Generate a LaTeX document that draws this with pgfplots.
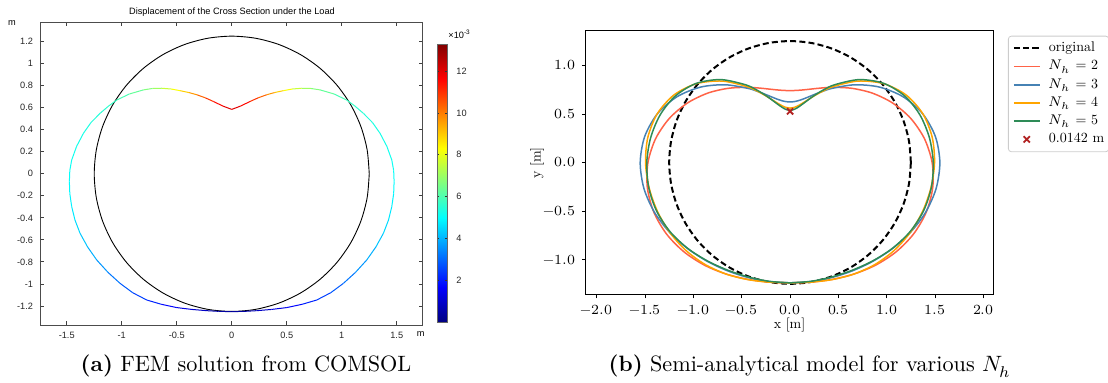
\documentclass[border=0pt]{standalone}
\usepackage{fontspec}
\usepackage{unicode-math}
\setmainfont{lmroman10}[Extension=.otf, UprightFont=*-regular, BoldFont=*-bold, ItalicFont=*-italic, BoldItalicFont=*-bolditalic]
\setmathfont{Latin Modern Math}
\usepackage{pgfplots}
\pgfplotsset{compat=1.18}
\newfontfamily\comsolfont{Liberation Sans}
\definecolor{mptomato}{RGB}{255,99,71}
\definecolor{mpsteel}{RGB}{70,130,180}
\definecolor{mporange}{RGB}{255,165,0}
\definecolor{mpgreen}{RGB}{46,139,87}
\definecolor{mpfire}{RGB}{178,34,34}
\newcommand{\cfont}{\comsolfont\fontsize{4.6}{5.5}\selectfont}
\newcommand{\mfont}{\fontsize{7}{8.4}\selectfont}
\begin{document}
\begin{tikzpicture}
\useasboundingbox (0,0) rectangle (554pt,191.5pt);
% ---------------- left panel (COMSOL) ----------------
\begin{axis}[
  at={(20pt,29pt)}, anchor=south west, scale only axis,
  width=191.35pt, height=151.35pt,
  xmin=-1.743, xmax=1.736, ymin=-1.373, ymax=1.376,
  axis line style={black!70, line width=0.4pt},
  tick align=inside, major tick length=1.8pt,
  tick style={black!75, line width=0.4pt},
  xtick={-1.5,-1,-0.5,0,0.5,1,1.5},
  ytick={-1.2,-1,-0.8,-0.6,-0.4,-0.2,0,0.2,0.4,0.6,0.8,1,1.2},
  ticklabel style={font=\cfont, text=black!85},
  /pgf/number format/assume math mode=true,
  colormap/jet, point meta min=0, point meta max=13.3,
  colorbar,
  colorbar style={
    at={(1.0374,0.9283)}, anchor=north west,
    scale only axis, width=5pt, height=139pt,
    ytick={2,4,6,8,10,12}, yticklabel pos=right,
    tick align=inside, major tick length=1.2pt,
    tick style={black!80, line width=0.35pt},
    axis line style={black!60, line width=0.35pt},
    yticklabel style={font=\cfont, xshift=1.2pt},
    /pgf/number format/assume math mode=true,
  },
]
\addplot[black, line width=0.45pt, smooth] coordinates {
(1.25,0) (1.2310,0.2171) (1.1746,0.4275) (1.0825,0.625) (0.9575,0.8035) (0.8035,0.9575) (0.625,1.0825) (0.4275,1.1746) (0.2171,1.2310) (0,1.25) (-0.2171,1.2310) (-0.4275,1.1746) (-0.625,1.0825) (-0.8035,0.9575) (-0.9575,0.8035) (-1.0825,0.625) (-1.1746,0.4275) (-1.2310,0.2171) (-1.25,0) (-1.2310,-0.2171) (-1.1746,-0.4275) (-1.0825,-0.625) (-0.9575,-0.8035) (-0.8035,-0.9575) (-0.625,-1.0825) (-0.4275,-1.1746) (-0.2171,-1.2310) (0,-1.25) (0.2171,-1.2310) (0.4275,-1.1746) (0.625,-1.0825) (0.8035,-0.9575) (0.9575,-0.8035) (1.0825,-0.625) (1.1746,-0.4275) (1.2310,-0.2171) (1.25,0)};
\addplot[mesh, point meta=explicit, line width=0.5pt] table[x=x, y=y, meta=c] {
x y c
0 -1.252 0.3
0.12 -1.249 0.5
0.227 -1.243 0.7
0.36 -1.232 1.1
0.5 -1.215 1.5
0.64 -1.185 1.9
0.773 -1.146 2.3
0.9 -1.08 2.65
1.015 -0.995 3.0
1.125 -0.895 3.4
1.227 -0.783 3.8
1.31 -0.665 4.1
1.379 -0.54 4.4
1.425 -0.42 4.6
1.455 -0.298 4.8
1.472 -0.18 4.9
1.476 -0.071 5.0
1.472 0.03 5.1
1.455 0.125 5.2
1.41 0.25 5.25
1.348 0.368 5.3
1.28 0.465 5.4
1.197 0.549 5.5
1.12 0.615 5.65
1.045 0.67 5.8
0.93 0.725 6.1
0.803 0.762 6.5
0.72 0.775 6.9
0.636 0.777 7.3
0.55 0.77 7.9
0.47 0.755 8.6
0.39 0.738 9.3
0.318 0.718 10.0
0.24 0.69 10.7
0.167 0.657 11.3
0.08 0.615 11.8
0 0.585 12.2
-0.08 0.615 11.8
-0.167 0.657 11.3
-0.24 0.69 10.7
-0.318 0.718 10.0
-0.39 0.738 9.3
-0.47 0.755 8.6
-0.55 0.77 7.9
-0.636 0.777 7.3
-0.72 0.775 6.9
-0.803 0.762 6.5
-0.93 0.725 6.1
-1.045 0.67 5.8
-1.12 0.615 5.65
-1.197 0.549 5.5
-1.28 0.465 5.4
-1.348 0.368 5.3
-1.41 0.25 5.25
-1.455 0.125 5.2
-1.472 0.03 5.1
-1.476 -0.071 5.0
-1.472 -0.18 4.9
-1.455 -0.298 4.8
-1.425 -0.42 4.6
-1.379 -0.54 4.4
-1.31 -0.665 4.1
-1.227 -0.783 3.8
-1.125 -0.895 3.4
-1.015 -0.995 3.0
-0.9 -1.08 2.65
-0.773 -1.146 2.3
-0.64 -1.185 1.9
-0.5 -1.215 1.5
-0.36 -1.232 1.1
-0.227 -1.243 0.7
-0.12 -1.249 0.5
0 -1.252 0.3
};
\end{axis}
\node[font=\cfont] at (116pt,185.6pt) {Displacement of the Cross Section under the Load};
\node[font=\cfont] at (6pt,180.2pt) {m};
\node[font=\cfont] at (210.3pt,24.4pt) {m};
\node[font=\cfont, anchor=west, inner sep=0pt] at (224pt,174.3pt) {×10\textsuperscript{-3}};
% ---------------- right panel (model) ----------------
\begin{axis}[
  at={(292.85pt,44pt)}, anchor=south west, scale only axis,
  width=203.8pt, height=132pt,
  xmin=-2.114, xmax=2.103, ymin=-1.365, ymax=1.354,
  axis line style={black, line width=0.5pt},
  tick align=outside, major tick length=1.75pt,
  tick style={black, line width=0.4pt},
  xtick pos=left, ytick pos=left,
  xtick={-2,-1.5,-1,-0.5,0,0.5,1,1.5,2},
  ytick={-1,-0.5,0,0.5,1},
  ticklabel style={font=\mfont},
  xticklabel style={/pgf/number format/.cd, fixed, fixed zerofill, precision=1},
  yticklabel style={/pgf/number format/.cd, fixed, fixed zerofill, precision=1},
  xlabel={x [m]}, ylabel={y [m]},
  label style={font=\mfont},
  x label style={at={(axis description cs:0.5,-0.1136)}, anchor=center},
  y label style={at={(axis description cs:-0.119,0.5)}, anchor=center},
  legend image code/.code={\draw[mark repeat=2,mark phase=2,#1] plot coordinates {(0pt,0pt) (6.4pt,0pt) (12.8pt,0pt)};},
  legend cell align=left,
  legend style={at={(1.036,0.982)}, anchor=north west, font=\mfont,
    draw=black!20, rounded corners=1.5pt, fill=white,
    inner xsep=2.3pt, inner ysep=1.6pt, column sep=4.2pt,
    nodes={inner xsep=0pt, inner ysep=1.3pt, text height=4.9pt, text depth=1.6pt}},
]
\addplot[black, line width=1pt, dash pattern=on 3pt off 1.6pt, smooth] coordinates {
(1.25,0) (1.2310,0.2171) (1.1746,0.4275) (1.0825,0.625) (0.9575,0.8035) (0.8035,0.9575) (0.625,1.0825) (0.4275,1.1746) (0.2171,1.2310) (0,1.25) (-0.2171,1.2310) (-0.4275,1.1746) (-0.625,1.0825) (-0.8035,0.9575) (-0.9575,0.8035) (-1.0825,0.625) (-1.1746,0.4275) (-1.2310,0.2171) (-1.25,0) (-1.2310,-0.2171) (-1.1746,-0.4275) (-1.0825,-0.625) (-0.9575,-0.8035) (-0.8035,-0.9575) (-0.625,-1.0825) (-0.4275,-1.1746) (-0.2171,-1.2310) (0,-1.25) (0.2171,-1.2310) (0.4275,-1.1746) (0.625,-1.0825) (0.8035,-0.9575) (0.9575,-0.8035) (1.0825,-0.625) (1.1746,-0.4275) (1.2310,-0.2171) (1.25,0)};
\addlegendentry{original}
\addplot[mptomato, line width=0.75pt, smooth] coordinates {
(0,-1.24) (0.2171,-1.2317) (0.4381,-1.2038) (0.6633,-1.1487) (0.8869,-1.0569) (1.0972,-0.9207) (1.2774,-0.7375) (1.4089,-0.5128) (1.4761,-0.2602) (1.47,0) (1.3906,0.2451) (1.2482,0.4543) (1.0609,0.6125) (0.851,0.7142) (0.6407,0.7635) (0.4468,0.7738) (0.3589,0.7696) (0.2774,0.7623) (0.202,0.7541) (0.1316,0.7468) (0.0649,0.7418) (0,0.74) (-0.0649,0.7418) (-0.1316,0.7468) (-0.202,0.7541) (-0.2774,0.7623) (-0.3589,0.7696) (-0.4468,0.7738) (-0.6407,0.7635) (-0.851,0.7142) (-1.0609,0.6125) (-1.2482,0.4543) (-1.3906,0.2451) (-1.47,0) (-1.4761,-0.2602) (-1.4089,-0.5128) (-1.2774,-0.7375) (-1.0972,-0.9207) (-0.8869,-1.0569) (-0.6633,-1.1487) (-0.4381,-1.2038) (-0.2171,-1.2317) (0,-1.24)};
\addlegendentry{$N_h$ = 2}
\addplot[mpsteel, line width=0.75pt, smooth] coordinates {
(0,-1.24) (0.2162,-1.2263) (0.4314,-1.1852) (0.6447,-1.1166) (0.8549,-1.0188) (1.0582,-0.888) (1.2462,-0.7195) (1.404,-0.511) (1.512,-0.2665) (1.5501,0) (1.5044,0.2652) (1.3733,0.4998) (1.1707,0.676) (0.9249,0.7762) (0.6712,0.7999) (0.4415,0.7646) (0.3424,0.7343) (0.2553,0.7014) (0.1796,0.6704) (0.1137,0.6451) (0.055,0.6287) (0,0.623) (-0.055,0.6287) (-0.1137,0.6451) (-0.1796,0.6704) (-0.2553,0.7014) (-0.3424,0.7343) (-0.4415,0.7646) (-0.6712,0.7999) (-0.9249,0.7762) (-1.1707,0.676) (-1.3733,0.4998) (-1.5044,0.2652) (-1.5501,0) (-1.512,-0.2665) (-1.404,-0.511) (-1.2462,-0.7195) (-1.0582,-0.888) (-0.8549,-1.0188) (-0.6447,-1.1166) (-0.4314,-1.1852) (-0.2162,-1.2263) (0,-1.24)};
\addlegendentry{$N_h$ = 3}
\addplot[mporange, line width=0.75pt, smooth] coordinates {
(0,-1.24) (0.2173,-1.2327) (0.4389,-1.206) (0.6631,-1.1485) (0.8808,-1.0496) (1.0786,-0.9051) (1.2453,-0.719) (1.3735,-0.4999) (1.4589,-0.2572) (1.495,0) (1.4709,0.2593) (1.3745,0.5002) (1.2021,0.6941) (0.9673,0.8117) (0.7034,0.8382) (0.4524,0.7836) (0.3436,0.7368) (0.2495,0.6854) (0.1705,0.6362) (0.105,0.5958) (0.0498,0.5692) (0,0.56) (-0.0498,0.5692) (-0.105,0.5958) (-0.1705,0.6362) (-0.2495,0.6854) (-0.3436,0.7368) (-0.4524,0.7836) (-0.7034,0.8382) (-0.9673,0.8117) (-1.2021,0.6941) (-1.3745,0.5002) (-1.4709,0.2593) (-1.495,0) (-1.4589,-0.2572) (-1.3735,-0.4999) (-1.2453,-0.719) (-1.0786,-0.9051) (-0.8808,-1.0496) (-0.6631,-1.1485) (-0.4389,-1.206) (-0.2173,-1.2327) (0,-1.24)};
\addlegendentry{$N_h$ = 4}
\addplot[mpgreen, line width=0.75pt, smooth] coordinates {
(0,-1.24) (0.2158,-1.2243) (0.4295,-1.18) (0.6413,-1.1107) (0.8523,-1.0156) (1.0567,-0.8867) (1.2393,-0.7156) (1.3797,-0.5021) (1.462,-0.2577) (1.482,0) (1.4421,0.2542) (1.3442,0.4892) (1.1862,0.6849) (0.9702,0.8142) (0.7162,0.8534) (0.4623,0.8006) (0.3491,0.7488) (0.2509,0.6894) (0.169,0.6306) (0.1025,0.5813) (0.048,0.5484) (0,0.5369) (-0.048,0.5484) (-0.1025,0.5813) (-0.169,0.6306) (-0.2509,0.6894) (-0.3491,0.7488) (-0.4623,0.8006) (-0.7162,0.8534) (-0.9702,0.8142) (-1.1862,0.6849) (-1.3442,0.4892) (-1.4421,0.2542) (-1.482,0) (-1.462,-0.2577) (-1.3797,-0.5021) (-1.2393,-0.7156) (-1.0567,-0.8867) (-0.8523,-1.0156) (-0.6413,-1.1107) (-0.4295,-1.18) (-0.2158,-1.2243) (0,-1.24)};
\addlegendentry{$N_h$ = 5}
\addplot[only marks, mark=x, mark size=2.2pt, mpfire, line width=0.9pt] coordinates {(0,0.527)};
\addlegendentry{0.0142 m}
\end{axis}
% ---------------- captions ----------------
\node[anchor=base, inner sep=0pt] at (123pt,5.5pt) {\fontsize{11.1}{13}\selectfont\textbf{(a)} FEM solution from COMSOL};
\node[anchor=base, inner sep=0pt] at (405pt,5.5pt) {\fontsize{11.1}{13}\selectfont\textbf{(b)} Semi-analytical model for various $N_h$};
\end{tikzpicture}
\end{document}
